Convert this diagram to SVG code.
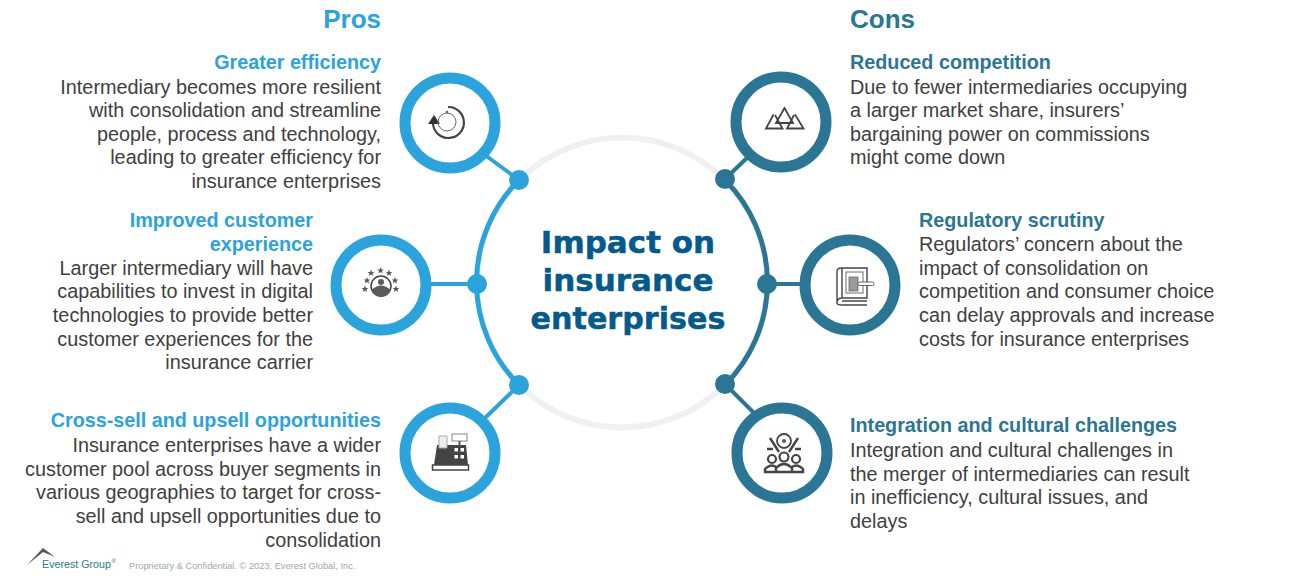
<svg xmlns="http://www.w3.org/2000/svg" width="1290" height="577" viewBox="0 0 1290 577">
<defs><polygon id="star" points="0,-3.400 1,-1 3.400,-1 1.500,.6 2.200,3 0,1.600 -2.200,3 -1.500,.6 -3.400,-1 -1,-1"/></defs>
<style>
text{font-family:"Liberation Sans",Arial,sans-serif}
.b{font-size:19.840px;fill:#404040}
.r{text-anchor:end}
.hp{font-size:19.750px;font-weight:bold;fill:#2ba3dd}
.hc{font-size:19.750px;font-weight:bold;fill:#2b7694}
.tp{font-size:26px;font-weight:bold;fill:#2ba3dd}
.tc{font-size:26px;font-weight:bold;fill:#2b7694}
.ct{font-family:"DejaVu Sans",Verdana,sans-serif;font-size:31px;font-weight:bold;fill:#045a8d;text-anchor:middle;stroke:#045a8d;stroke-width:.5}
.rp{fill:#fff;stroke:#2ba3dd;stroke-width:11}
.rc{fill:#fff;stroke:#2b7694;stroke-width:11}
.lp{fill:none;stroke:#2ba3dd;stroke-width:5}
.lc{fill:none;stroke:#2b7694;stroke-width:5}
.cp{fill:none;stroke:#2ba3dd;stroke-width:4}
.cc{fill:none;stroke:#2b7694;stroke-width:4}
.dp{fill:#2ba3dd}.dc{fill:#2b7694}
.i{fill:none;stroke:#444;stroke-width:1.800}
.f{fill:#5a5a5a}
</style>
<rect width="1290" height="577" fill="#fff"/>
<g id="connectors">
<circle cx="622" cy="282.500" r="145" fill="none" stroke="#f0f0f2" stroke-width="6"/>
<path class="lp" d="M519 180A145 145 0 0 0 519 385"/>
<path class="lc" d="M725 180A145 145 0 0 1 725 385"/>
<path class="cp" d="M485 155L519 180M425 284H477M485 418L519 385"/>
<path class="cc" d="M750 155L725 179M767 284H810M755 414L725 384"/>
<circle class="dp" cx="519" cy="180" r="10"/><circle class="dp" cx="477" cy="284" r="10"/><circle class="dp" cx="519" cy="385" r="10"/>
<circle class="dc" cx="725" cy="179" r="10"/><circle class="dc" cx="767" cy="284" r="10"/><circle class="dc" cx="725" cy="384" r="10"/>
</g>
<g id="center"><text class="ct" x="628" y="253">Impact on</text><text class="ct" x="628" y="291">insurance</text><text class="ct" x="628" y="329" textLength="195" lengthAdjust="spacingAndGlyphs">enterprises</text></g>
<g id="pros-title"><text class="tp r" x="381" y="28">Pros</text></g>
<g id="cons-title"><text class="tc" x="850" y="28">Cons</text></g>
<g id="pro1">
<circle class="rp" cx="450" cy="123" r="45"/>
<path class="i" d="M448 107A15.500 15.500 0 1 1 433 124" style="stroke-width:2.200"/><path d="M428 124H440L434 115Z" fill="#333"/><circle class="i" cx="447" cy="122" r="9" style="stroke-width:1;stroke:#666"/><circle cx="447" cy="112" r="1.300" fill="#666"/>
<text class="hp r" x="381" y="69">Greater efficiency</text>
<text class="b r" x="381" y="94">Intermediary becomes more resilient</text><text class="b r" x="381" y="117">with consolidation and streamline</text><text class="b r" x="381" y="141">people, process and technology,</text><text class="b r" x="381" y="164">leading to greater efficiency for</text><text class="b r" x="381" y="188">insurance enterprises</text>
</g>
<g id="pro2">
<circle class="rp" cx="381" cy="285" r="45"/>
<circle class="i" cx="381" cy="286" r="10" style="stroke-width:1.500"/><circle class="f" cx="381" cy="282" r="3"/><path class="f" d="M371.500 290Q381 281 390.500 290A10 10 0 0 1 371.500 290Z"/>
<g class="f"><use href="#star" x="365" y="289"/><use href="#star" x="367" y="280.500"/><use href="#star" x="371" y="273"/><use href="#star" x="380.500" y="270.500"/><use href="#star" x="389" y="273"/><use href="#star" x="395" y="280.500"/><use href="#star" x="396" y="289"/></g>
<text class="hp r" x="313" y="227">Improved customer</text><text class="hp r" x="313" y="251">experience</text>
<text class="b r" x="313" y="275">Larger intermediary will have</text><text class="b r" x="313" y="298">capabilities to invest in digital</text><text class="b r" x="313" y="322">technologies to provide better</text><text class="b r" x="313" y="346">customer experiences for the</text><text class="b r" x="313" y="369">insurance carrier</text>
</g>
<g id="pro3">
<circle class="rp" cx="450" cy="453" r="45"/>
<path d="M434 465L437 445H466L468 465Z" fill="#444"/><path d="M439 448V436H447V448Z" fill="#eee" stroke="#aaa"/><rect x="432.500" y="465" width="36" height="5" fill="#fff" stroke="#444" stroke-width="1.500"/><rect x="452" y="434" width="15" height="7" fill="#fff" stroke="#888"/><rect x="458.500" y="441" width="2" height="5" fill="#555"/>
<g fill="#fff"><rect x="454.500" y="448" width="3.500" height="3.500"/><rect x="460.500" y="448" width="3.500" height="3.500"/><rect x="454.500" y="455" width="3.500" height="3.500"/><rect x="460.500" y="455" width="3.500" height="3.500"/></g>
<text class="hp r" x="381" y="427">Cross-sell and upsell opportunities</text>
<text class="b r" x="381" y="452">Insurance enterprises have a wider</text><text class="b r" x="381" y="476">customer pool across buyer segments in</text><text class="b r" x="381" y="499">various geographies to target for cross-</text><text class="b r" x="381" y="523">sell and upsell opportunities due to</text><text class="b r" x="381" y="547">consolidation</text>
</g>
<g id="con1">
<circle class="rc" cx="781" cy="122" r="45"/>
<path class="i" d="M773.500 114.500L766 128.500H782.500L775 115M795 114.500L803.500 128.500H787L794 115M784.500 108L776 123H793Z"/>
<text class="hc" x="850" y="69">Reduced competition</text>
<text class="b" x="850" y="94">Due to fewer intermediaries occupying</text><text class="b" x="850" y="117">a larger market share, insurers’</text><text class="b" x="850" y="141">bargaining power on commissions</text><text class="b" x="850" y="164">might come down</text>
</g>
<g id="con2">
<circle class="rc" cx="850" cy="285" r="45"/>
<path class="i" d="M841 268H867V298H842Q837 298 837 303V272Q837 268 841 268ZM837 303Q837 305 842 305H867M842 268V298M842 301H867" style="stroke-width:1.400"/>
<rect class="i" x="846" y="272" width="17" height="21" style="stroke-width:1.100;stroke:#777"/><rect x="849" y="277" width="9" height="14" fill="#999" stroke="#666" stroke-width=".8"/>
<rect x="858" y="282" width="16" height="3.500" rx="1.700" fill="#fff" stroke="#666"/>
<text class="hc" x="919" y="227">Regulatory scrutiny</text>
<text class="b" x="919" y="251">Regulators’ concern about the</text><text class="b" x="919" y="275">impact of consolidation on</text><text class="b" x="919" y="298">competition and consumer choice</text><text class="b" x="919" y="322">can delay approvals and increase</text><text class="b" x="919" y="346">costs for insurance enterprises</text>
</g>
<g id="con3">
<circle class="rc" cx="782" cy="453" r="45"/>
<circle class="i" cx="784" cy="441" r="7"/><circle class="f" cx="784" cy="441" r="2"/>
<path class="i" d="M770 438L779 452M798 438L789 452M767 449H773M795 449H801" style="stroke-width:2.400"/>
<circle class="i" cx="772" cy="459" r="4" style="stroke-width:2.200"/><circle class="i" cx="784" cy="457" r="4.500" style="stroke-width:2.200"/><circle class="i" cx="796" cy="459" r="4" style="stroke-width:2.200"/>
<path class="i" d="M765 472V469Q771 463 776 467V472ZM776 472V468Q784 460 792 468V472ZM792 472V467Q797 463 803 469V472ZM765 472H803" style="stroke-width:2.400"/>
<text class="hc" x="850" y="432">Integration and cultural challenges</text>
<text class="b" x="850" y="457">Integration and cultural challenges in</text><text class="b" x="850" y="481">the merger of intermediaries can result</text><text class="b" x="850" y="504">in inefficiency, cultural issues, and</text><text class="b" x="850" y="528">delays</text>
</g>
<g id="footer">
<path d="M27 565L43 548L55 557L43 552Z" fill="#555"/>
<text x="42" y="568" style="font-size:10.700px;fill:#2b7694">Everest Group</text>
<text x="111.500" y="563" style="font-size:6px;fill:#2b7694">®</text>
<text x="129" y="569" style="font-size:9.250px;fill:#a6a6a6">Proprietary &amp; Confidential. © 2023, Everest Global, Inc.</text>
</g>
</svg>
